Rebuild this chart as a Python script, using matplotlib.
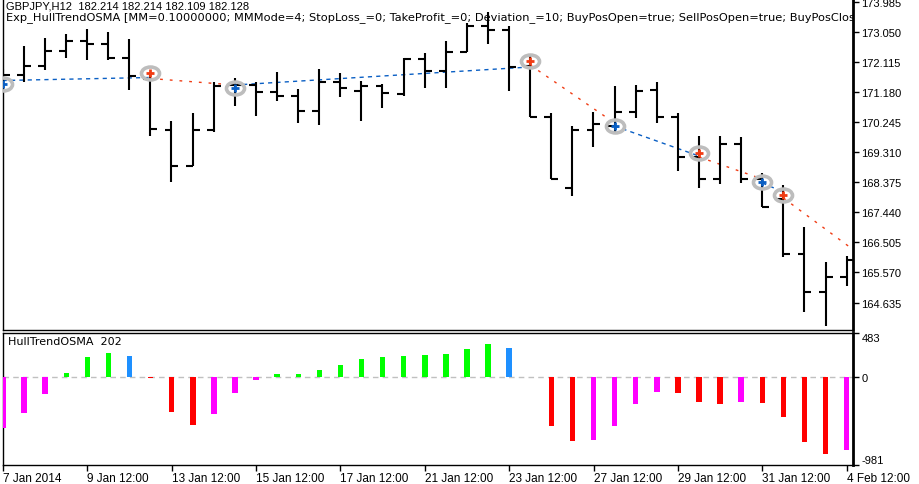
import numpy as np
import matplotlib.pyplot as plt
from matplotlib.path import Path
from matplotlib.transforms import Affine2D

plt.rcParams['font.family'] = ['Liberation Sans', 'DejaVu Sans']
plt.rcParams['font.size'] = 8

# GBPJPY H12 bars, 7 Jan 2014 12:00 .. 4 Feb 2014 12:00
opens = [171.578, 171.712, 171.991, 172.457, 172.768, 172.665, 172.230, 171.578, 170.003, 168.886,
         169.994, 171.401, 171.401, 171.165, 171.060, 170.594, 171.494, 171.215, 171.351, 171.112,
         172.199, 171.827, 172.426, 173.215, 173.109, 171.991, 170.407, 168.202, 169.985, 170.128,
         170.563, 171.246, 170.407, 169.165, 168.463, 169.560, 168.463, 167.851, 166.143, 164.973,
         165.438]
highs = [171.889, 172.612, 172.851, 172.976, 173.131, 173.028, 172.820, 171.733, 170.283, 170.513,
         171.476, 171.600, 171.476, 171.786, 171.268, 171.889, 171.755, 171.525, 171.423, 172.221,
         172.386, 172.749, 173.317, 173.650, 173.233, 172.323, 170.513, 170.109, 170.563, 171.351,
         171.392, 171.476, 170.522, 169.799, 169.799, 169.768, 168.650, 168.286, 166.973, 165.886,
         166.091]
lows = [171.268, 171.494, 171.867, 172.230, 172.178, 172.178, 171.246, 169.799, 168.370, 168.886,
        169.942, 170.749, 170.438, 170.886, 170.202, 170.159, 171.028, 170.283, 170.668, 171.060,
        171.308, 171.308, 172.426, 172.665, 171.196, 170.407, 168.463, 167.935, 169.476, 169.942,
        170.376, 170.202, 168.712, 168.184, 168.308, 168.339, 167.594, 166.041, 164.333, 163.917,
        165.159]
closes = [171.712, 171.991, 172.457, 172.768, 172.665, 172.230, 171.681, 170.025, 168.886, 169.994,
          171.370, 171.401, 171.165, 171.060, 170.594, 171.494, 171.299, 171.351, 171.143, 172.199,
          171.827, 172.426, 173.215, 173.109, 171.960, 170.407, 168.463, 170.003, 170.181, 170.563,
          171.215, 170.407, 169.165, 168.463, 169.560, 168.463, 167.594, 166.143, 164.973, 165.438,
          165.957]

# HullTrendOSMA histogram
osma = [-568, -402, -191, 41, 219, 263, 230, -14, -391, -535,
        -413, -180, -36, 30, 30, 75, 130, 197, 219, 230,
        241, 252, 308, 363, 319, 0, -546, -713, -702, -546,
        -302, -169, -180, -280, -302, -280, -291, -447, -727, -857,
        -812]
osma_kind = ['m', 'm', 'm', 'g', 'g', 'g', 'b', 'r', 'r', 'r',
             'm', 'm', 'm', 'g', 'g', 'g', 'g', 'g', 'g', 'g',
             'g', 'g', 'g', 'g', 'b', 'r', 'r', 'r', 'm', 'm',
             'm', 'm', 'r', 'r', 'r', 'm', 'r', 'r', 'r', 'r',
             'm']
osma_palette = {'g': '#00FF00', 'm': '#FF00FF', 'r': '#FF0000', 'b': '#1E90FF'}

# trade marks
trade_bars = [0, 7, 11, 25, 29, 33, 36, 37]
trade_prices = [171.423, 171.755, 171.289, 172.128, 170.109, 169.289, 168.389, 167.985]
trade_side = ['buy', 'sell', 'buy', 'sell', 'buy', 'sell', 'buy', 'sell']

# position lines: start bar, start price, end bar, end price
line_start_bars = [0, 7, 11, 25, 29, 33, 36, 37]
line_start_prices = [171.532, 171.594, 171.392, 172.013, 170.118, 169.156, 168.349, 167.882]
line_end_bars = [7, 11, 25, 29, 33, 36, 37, 40.3]
line_end_prices = [171.625, 171.392, 171.951, 170.212, 169.187, 168.473, 168.069, 166.283]

price_ticks = [173.985, 173.050, 172.115, 171.180, 170.245, 169.310, 168.375, 167.440, 166.505, 165.570, 164.635]
osma_ticks = [483, 0, -981]
x_tick_bars = [0, 4, 8, 12, 16, 20, 24, 28, 32, 36, 40]
x_tick_labels = ['7 Jan 2014', '9 Jan 12:00', '13 Jan 12:00', '15 Jan 12:00', '17 Jan 12:00',
                 '21 Jan 12:00', '23 Jan 12:00', '27 Jan 12:00', '29 Jan 12:00', '31 Jan 12:00',
                 '4 Feb 12:00']

side_color = {'buy': '#0A5FC4', 'sell': '#F03C14'}

fig = plt.figure(figsize=(9.2, 4.85), dpi=100)
ax = fig.add_axes([3 / 920, 154 / 485, 850 / 920, 331 / 485])
ax2 = fig.add_axes([3 / 920, 19 / 485, 850 / 920, 132 / 485])

bars = np.arange(len(opens))
tw = 0.33

# OHLC bars
ax.vlines(bars, lows, highs, color='black', lw=1.5, zorder=3)
ax.hlines(opens, bars - tw, bars, color='black', lw=1.5, zorder=3)
ax.hlines(closes, bars, bars + tw, color='black', lw=1.5, zorder=3)

# position lines
for i in range(len(line_start_bars)):
    side = 'buy' if i % 2 == 0 else 'sell'
    ls = (0, (3, 3)) if side == 'buy' else (0, (2, 5))
    ax.plot([line_start_bars[i], line_end_bars[i]], [line_start_prices[i], line_end_prices[i]],
            color=side_color[side], lw=1, ls=ls, zorder=2)

# trade circles and arrows
ellipse = Path.unit_circle().transformed(Affine2D().scale(1.4, 1.0))
for b, p, s in zip(trade_bars, trade_prices, trade_side):
    ax.plot(b, p, marker=ellipse, ms=13, mfc='none', mec='#BDBDBD', mew=2.6, zorder=4)
    ax.plot(b, p, marker='+', ms=6, mew=2, color=side_color[s], zorder=5)

ax.set_xlim(0.014, 40.30)
ax.set_ylim(163.783, 174.063)
ax.yaxis.tick_right()
ax.set_yticks(price_ticks)
ax.set_yticklabels(['%.3f' % t for t in price_ticks])
ax.tick_params(axis='y', direction='out', length=4, width=1, pad=2, labelsize=8)
ax.set_xticks([])
ax.spines['top'].set_visible(False)
ax.spines['right'].set_linewidth(2)
ax.spines['left'].set_linewidth(1)
ax.spines['bottom'].set_linewidth(1)

ax.text(0.003, 0.995, 'GBPJPY,H12  182.214 182.214 182.109 182.128',
        transform=ax.transAxes, va='top', ha='left', fontsize=8, clip_on=True)
ax.text(0.003, 0.962,
        'Exp_HullTrendOSMA [MM=0.10000000; MMMode=4; StopLoss_=0; TakeProfit_=0; Deviation_=10; '
        'BuyPosOpen=true; SellPosOpen=true; BuyPosClose=true; SellPosClose=true]',
        transform=ax.transAxes, va='top', ha='left', fontsize=8.2, family='DejaVu Sans', clip_on=True)

# indicator panel
ax2.bar(bars, osma, width=0.26, color=[osma_palette[k] for k in osma_kind], zorder=3)
ax2.axhline(0, color='#C0C0C0', lw=1, ls=(0, (4, 3)), zorder=2)
ax2.set_xlim(0.014, 40.30)
ax2.set_ylim(-981, 483)
ax2.yaxis.tick_right()
ax2.set_yticks(osma_ticks)
ax2.set_yticklabels([str(t) for t in osma_ticks])
ax2.tick_params(axis='y', direction='out', length=4, width=1, pad=2, labelsize=8)
ylabels = ax2.get_yticklabels()
ylabels[0].set_va('top')
ylabels[2].set_va('bottom')
ax2.set_xticks(x_tick_bars)
ax2.set_xticklabels(x_tick_labels)
ax2.tick_params(axis='x', direction='out', length=4, width=1, pad=1, labelsize=8.5)
for lbl in ax2.get_xticklabels():
    lbl.set_ha('left')
ax2.spines['right'].set_linewidth(2)
for sp in ['top', 'left', 'bottom']:
    ax2.spines[sp].set_linewidth(1)
ax2.text(0.006, 0.975, 'HullTrendOSMA  202', transform=ax2.transAxes, va='top', ha='left',
         fontsize=8, family='DejaVu Sans')

fig.savefig('out.png', dpi=100)
